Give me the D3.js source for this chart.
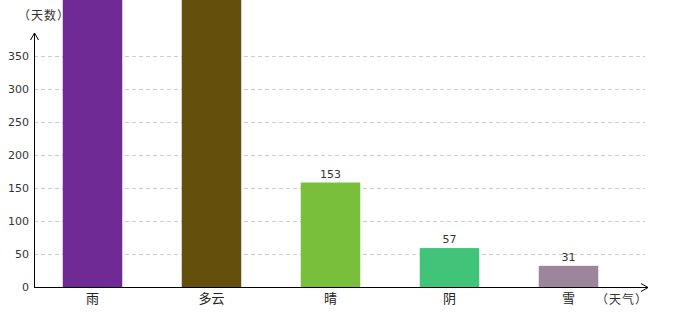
<!DOCTYPE html>
<html>
<head>
<meta charset="utf-8">
<script src="https://cdn.jsdelivr.net/npm/d3@7"></script>
<style>
body { margin: 0; background: #fff; }
svg { display: block; }
.tick-label { font-family: "DejaVu Sans", sans-serif; font-size: 11px; fill: #333; }
.val { font-family: "DejaVu Sans", sans-serif; font-size: 11px; fill: #333; }
.cat { font-family: "Noto Sans CJK SC", sans-serif; font-size: 13px; fill: #222; }
.axis-title { font-family: "Noto Sans CJK SC", sans-serif; font-size: 12px; fill: #333; letter-spacing: 1px; }
</style>
</head>
<body>
<svg id="chart" width="680" height="320"></svg>
<script>
var categories = ["雨", "多云", "晴", "阴", "雪"];
var values = [470, 455, 153, 57, 31];
var colors = ["#702a96", "#654f0d", "#79bf3b", "#41c37a", "#9d869d"];
var yTicks = [0, 50, 100, 150, 200, 250, 300, 350];

var svg = d3.select("#chart");
    origin = {x: 34, y: 287};
    width = +svg.attr("width");

var x = d3.scaleBand()
    .domain(categories)
    .range([origin.x - 1, origin.x + 594])
    .paddingInner(0.5)
    .paddingOuter(0.25);

// axis scale and bar scale are slightly different in the original
var y = d3.scaleLinear()
    .domain([0, 350])
    .range([origin.y, 56]);

var yBar = d3.scaleLinear()
    .domain([0, 350])
    .range([origin.y, 48]);

// grid lines
svg.append("g")
  .selectAll("line")
  .data(yTicks.slice(1))
  .enter().append("line")
    .attr("x1", origin.x)
    .attr("x2", 645)
    .attr("y1", function(d) { return y(d) + 0.5; })
    .attr("y2", function(d) { return y(d) + 0.5; })
    .attr("stroke", "#ccc")
    .attr("stroke-dasharray", "4,3");

// tick labels
svg.append("g")
  .selectAll("text")
  .data(yTicks)
  .enter().append("text")
    .attr("class", "tick-label")
    .attr("x", origin.x - 5)
    .attr("y", function(d) { return y(d) + 4; })
    .attr("text-anchor", "end")
    .text(function(d) { return d; });

// bars
svg.append("g")
  .selectAll("rect")
  .data(values)
  .enter().append("rect")
    .attr("x", function(d, i) { return x(categories[i]); })
    .attr("width", x.bandwidth())
    .attr("y", function(d) { return yBar(d); })
    .attr("height", function(d) { return origin.y - yBar(d); })
    .attr("fill", function(d, i) { return colors[i]; });

// value labels (the ones above the top edge are not visible in the original)
svg.append("g")
  .selectAll("text")
  .data(values.map(function(d, i) { return {v: d, c: categories[i]}; })
    .filter(function(d) { return yBar(d.v) - 5 > 12; }))
  .enter().append("text")
    .attr("class", "val")
    .attr("x", function(d) { return x(d.c) + x.bandwidth() / 2; })
    .attr("y", function(d) { return yBar(d.v) - 5; })
    .attr("text-anchor", "middle")
    .text(function(d) { return d.v; });

// category labels
svg.append("g")
  .selectAll("text")
  .data(categories)
  .enter().append("text")
    .attr("class", "cat")
    .attr("x", function(d) { return x(d) + x.bandwidth() / 2; })
    .attr("y", 303)
    .attr("text-anchor", "middle")
    .text(function(d) { return d; });

// axes with arrows
svg.append("line")
    .attr("x1", origin.x + 0.5).attr("x2", origin.x + 0.5)
    .attr("y1", origin.y).attr("y2", 33)
    .attr("stroke", "#000");
svg.append("path")
    .attr("d", "M" + (origin.x - 3.5) + ",40L" + (origin.x + 0.5) + ",33L" + (origin.x + 4.5) + ",40")
    .attr("fill", "none").attr("stroke", "#000");

svg.append("line")
    .attr("x1", origin.x).attr("x2", 648)
    .attr("y1", origin.y + 0.5).attr("y2", origin.y + 0.5)
    .attr("stroke", "#000");
svg.append("path")
    .attr("d", "M641," + (origin.y - 3.5) + "L648," + (origin.y + 0.5) + "L641," + (origin.y + 4.5))
    .attr("fill", "none").attr("stroke", "#000");

// axis titles
svg.append("text")
    .attr("class", "axis-title")
    .attr("x", 18).attr("y", 20)
    .text("（天数）");
svg.append("text")
    .attr("class", "axis-title")
    .attr("x", 596).attr("y", 304)
    .text("（天气）");
</script>
</body>
</html>
